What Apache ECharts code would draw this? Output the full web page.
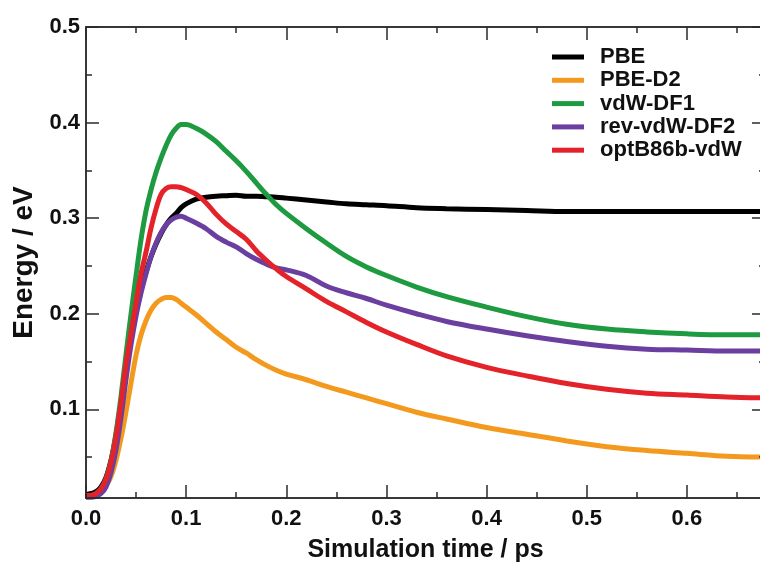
<!DOCTYPE html>
<html>
<head>
<meta charset="utf-8">
<script src="https://cdn.jsdelivr.net/npm/echarts@6/dist/echarts.min.js"></script>
<style>
  html, body { margin: 0; padding: 0; background: #ffffff; }
  #chart { width: 760px; height: 565px; }
</style>
</head>
<body>
<div id="chart"></div>
<script>
// Simulation time (ps) shared by all curves
const time = [0, 0.005, 0.01, 0.015, 0.02, 0.025, 0.03, 0.035, 0.04, 0.045,
  0.05, 0.055, 0.06, 0.065, 0.07, 0.075, 0.08, 0.085, 0.09, 0.095,
  0.1, 0.11, 0.12, 0.13, 0.14, 0.15, 0.16, 0.17, 0.18, 0.19,
  0.2, 0.22, 0.24, 0.26, 0.28, 0.3, 0.33, 0.36, 0.4, 0.44,
  0.48, 0.52, 0.56, 0.6, 0.64, 0.678];

// Energy (eV) per functional
const pbe = [0.011, 0.012, 0.014, 0.019, 0.029, 0.047, 0.073, 0.107, 0.143, 0.175,
  0.202, 0.225, 0.244, 0.260, 0.273, 0.284, 0.293, 0.300, 0.305, 0.311,
  0.315, 0.320, 0.322, 0.323, 0.3235, 0.324, 0.323, 0.323, 0.3225, 0.322,
  0.321, 0.319, 0.317, 0.315, 0.314, 0.313, 0.311, 0.310, 0.309, 0.308,
  0.307, 0.307, 0.307, 0.307, 0.307, 0.307];

const pbeD2 = [0.010, 0.010, 0.011, 0.014, 0.020, 0.030, 0.047, 0.070, 0.098, 0.128,
  0.157, 0.178, 0.193, 0.204, 0.211, 0.215, 0.217, 0.217, 0.215, 0.211,
  0.207, 0.199, 0.190, 0.181, 0.173, 0.165, 0.159, 0.152, 0.146, 0.141,
  0.137, 0.131, 0.124, 0.118, 0.112, 0.106, 0.097, 0.090, 0.081, 0.074,
  0.067, 0.061, 0.057, 0.054, 0.051, 0.050];

const vdwDF1 = [0.010, 0.010, 0.012, 0.017, 0.027, 0.046, 0.076, 0.114, 0.158, 0.200,
  0.240, 0.278, 0.308, 0.330, 0.348, 0.363, 0.376, 0.387, 0.394, 0.398,
  0.398, 0.394, 0.388, 0.380, 0.370, 0.360, 0.349, 0.337, 0.325, 0.314,
  0.305, 0.289, 0.274, 0.260, 0.249, 0.240, 0.228, 0.218, 0.207, 0.197,
  0.189, 0.184, 0.181, 0.179, 0.178, 0.178];

const revVdwDF2 = [0.008, 0.008, 0.009, 0.012, 0.019, 0.034, 0.058, 0.092, 0.132, 0.168,
  0.198, 0.222, 0.242, 0.260, 0.274, 0.285, 0.293, 0.298, 0.301, 0.302,
  0.300, 0.295, 0.289, 0.281, 0.275, 0.270, 0.263, 0.257, 0.252, 0.248,
  0.246, 0.240, 0.229, 0.222, 0.216, 0.209, 0.200, 0.192, 0.184, 0.177,
  0.171, 0.166, 0.163, 0.162, 0.161, 0.161];

const optB86bVdw = [0.010, 0.010, 0.012, 0.017, 0.027, 0.045, 0.072, 0.108, 0.148, 0.180,
  0.212, 0.242, 0.265, 0.290, 0.310, 0.325, 0.331, 0.333, 0.333, 0.332,
  0.330, 0.325, 0.316, 0.304, 0.294, 0.286, 0.278, 0.266, 0.256, 0.247,
  0.239, 0.226, 0.213, 0.202, 0.191, 0.181, 0.168, 0.156, 0.144, 0.135,
  0.127, 0.121, 0.117, 0.115, 0.113, 0.112];

const seriesNames = ['PBE', 'PBE-D2', 'vdW-DF1', 'rev-vdW-DF2', 'optB86b-vdW'];
const seriesValues = [pbe, pbeD2, vdwDF1, revVdwDF2, optB86bVdw];
const seriesColors = ['#000000', '#F39A1E', '#1E9A40', '#6B3FA0', '#E32329'];

// Axis ranges and tick positions
const X_MIN = 0, X_MAX = 0.678;
const Y_MIN = 0.0073, Y_MAX = 0.5;
const xMajorTicks = [0, 0.1, 0.2, 0.3, 0.4, 0.5, 0.6];
const xMinorTicks = [0.05, 0.15, 0.25, 0.35, 0.45, 0.55, 0.65];
const yMajorTicks = [0.1, 0.2, 0.3, 0.4, 0.5];
const yMinorTicks = [0.05, 0.15, 0.25, 0.35, 0.45];

const FONT = '"Liberation Sans", Arial, Helvetica, sans-serif';
const AXIS_COLOR = '#2b2b2b';

function makeAxis(kind, position, ticks, tickLen, labelled, extra) {
  const axis = {
    type: 'value',
    position: position,
    min: kind === 'x' ? X_MIN : Y_MIN,
    max: kind === 'x' ? X_MAX : Y_MAX,
    axisLine: { show: true, onZero: false, lineStyle: { color: AXIS_COLOR, width: 1.5 } },
    axisTick: {
      show: true, inside: true, length: tickLen, customValues: ticks,
      lineStyle: { color: AXIS_COLOR, width: 1.5 }
    },
    axisLabel: labelled ? {
      show: true, customValues: ticks, margin: kind === 'x' ? 10 : 6,
      color: '#111', fontFamily: FONT, fontWeight: 'bold', fontSize: 22,
      formatter: v => v.toFixed(1)
    } : { show: false },
    splitLine: { show: false },
    minorTick: { show: false },
    z: 10
  };
  return Object.assign(axis, extra || {});
}

const nameStyle = { color: '#111', fontFamily: FONT, fontWeight: 'bold', fontSize: 25 };

const option = {
  backgroundColor: '#ffffff',
  animation: false,
  grid: {
    left: 86, right: -5, top: 27, bottom: 67,
    containLabel: false, outerBoundsMode: 'none'
  },
  legend: {
    orient: 'vertical',
    left: 552, top: 46,
    padding: 0,
    icon: 'rect',
    itemWidth: 32, itemHeight: 5, itemGap: 1.3,
    data: seriesNames,
    textStyle: {
      color: '#111', fontFamily: FONT, fontWeight: 'bold', fontSize: 22,
      lineHeight: 22, padding: [0, 0, 0, 11]
    }
  },
  xAxis: [
    makeAxis('x', 'bottom', xMajorTicks, 13, true, {
      name: 'Simulation time / ps', nameLocation: 'middle', nameGap: 40,
      nameTextStyle: nameStyle
    }),
    makeAxis('x', 'bottom', xMinorTicks, 6, false),
    makeAxis('x', 'top', xMajorTicks, 13, false),
    makeAxis('x', 'top', xMinorTicks, 6, false)
  ],
  yAxis: [
    makeAxis('y', 'left', yMajorTicks, 13, true, {
      name: 'Energy / eV', nameLocation: 'middle', nameGap: 46, nameRotate: 90,
      nameTextStyle: Object.assign({}, nameStyle, { fontSize: 28 })
    }),
    makeAxis('y', 'left', yMinorTicks, 6, false),
    makeAxis('y', 'right', yMajorTicks, 13, false),
    makeAxis('y', 'right', yMinorTicks, 6, false)
  ],
  series: seriesNames.map((name, i) => ({
    name: name,
    type: 'line',
    xAxisIndex: 0,
    yAxisIndex: 0,
    data: time.map((t, k) => [t, seriesValues[i][k]]),
    showSymbol: false,
    symbol: 'none',
    smooth: 0.35,
    clip: true,
    color: seriesColors[i],
    lineStyle: { color: seriesColors[i], width: 5 },
    z: 2 + i
  }))
};

const chart = echarts.init(document.getElementById('chart'), null, { renderer: 'canvas' });
chart.setOption(option);
</script>
</body>
</html>
